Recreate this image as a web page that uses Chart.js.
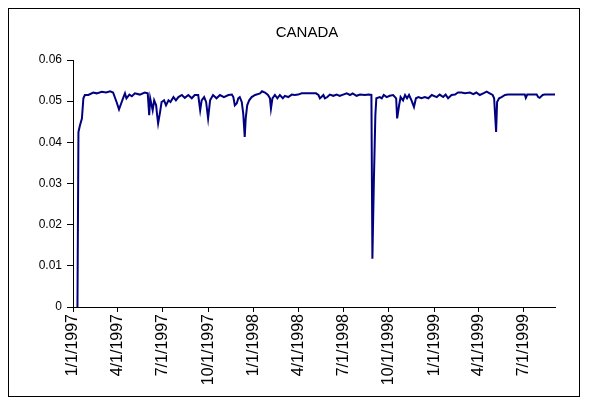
<!DOCTYPE html>
<html>
<head>
<meta charset="utf-8">
<script src="https://cdn.jsdelivr.net/npm/chart.js@4/dist/chart.umd.min.js"></script>
<style>
  html, body { margin: 0; padding: 0; background: #ffffff; }
  #wrap { width: 589px; height: 405px; }
</style>
</head>
<body>
<div id="wrap"><canvas id="c" width="589" height="405"></canvas></div>
<script>
const chartTitle = 'CANADA';

const dates = [
  '1997-01-10','1997-01-12','1997-01-15','1997-01-19','1997-01-22','1997-01-25','1997-02-01','1997-02-11','1997-02-18','1997-02-28',
  '1997-03-09','1997-03-17','1997-03-23','1997-03-30','1997-04-04','1997-04-07','1997-04-13','1997-04-16','1997-04-19','1997-04-25',
  '1997-04-30','1997-05-06','1997-05-16','1997-05-26','1997-06-01','1997-06-04','1997-06-06','1997-06-11','1997-06-14','1997-06-18',
  '1997-06-20','1997-06-22','1997-06-26','1997-06-29','1997-07-04','1997-07-08','1997-07-13','1997-07-17','1997-07-23','1997-07-28',
  '1997-08-02','1997-08-09','1997-08-15','1997-08-22','1997-08-29','1997-09-04','1997-09-11','1997-09-15','1997-09-18','1997-09-23',
  '1997-09-27','1997-10-01','1997-10-05','1997-10-11','1997-10-18','1997-10-25','1997-11-02','1997-11-11','1997-11-18','1997-11-21',
  '1997-11-24','1997-11-28','1997-12-01','1997-12-04','1997-12-08','1997-12-11','1997-12-14','1997-12-16','1997-12-19','1997-12-23',
  '1997-12-28','1998-01-04','1998-01-14','1998-01-18','1998-01-24','1998-01-30','1998-02-03','1998-02-05','1998-02-08','1998-02-13',
  '1998-02-18','1998-02-23','1998-03-01','1998-03-05','1998-03-12','1998-03-19','1998-03-25','1998-04-01','1998-04-08','1998-05-07',
  '1998-05-12','1998-05-15','1998-05-18','1998-05-22','1998-05-25','1998-05-30','1998-06-04','1998-06-11','1998-06-18','1998-06-24',
  '1998-07-01','1998-07-08','1998-07-15','1998-07-20','1998-07-28','1998-08-04','1998-08-14','1998-08-21','1998-08-27','1998-08-29',
  '1998-09-01','1998-09-04','1998-09-06','1998-09-13','1998-09-17','1998-09-21','1998-09-27','1998-10-03','1998-10-10','1998-10-16',
  '1998-10-18','1998-10-22','1998-10-25','1998-10-30','1998-11-03','1998-11-07','1998-11-11','1998-11-16','1998-11-21','1998-11-25',
  '1998-11-30','1998-12-06','1998-12-13','1998-12-20','1998-12-27','1999-01-06','1999-01-12','1999-01-19','1999-01-24','1999-01-29',
  '1999-02-05','1999-02-12','1999-02-18','1999-02-25','1999-03-04','1999-03-14','1999-03-21','1999-03-27','1999-04-03','1999-04-10',
  '1999-04-17','1999-04-23','1999-04-29','1999-05-02','1999-05-06','1999-05-08','1999-05-12','1999-05-17','1999-05-24','1999-05-30',
  '1999-07-03','1999-07-05','1999-07-08','1999-07-27','1999-07-30','1999-08-02','1999-08-08','1999-08-12','1999-09-02'
];

const canadaValues = [
  0.0000,0.0425,0.0441,0.0458,0.0507,0.0515,0.0515,0.0521,0.0519,0.0523,
  0.0521,0.0524,0.0521,0.0498,0.0480,0.0490,0.0510,0.0519,0.0507,0.0516,
  0.0512,0.0519,0.0516,0.0521,0.0519,0.0466,0.0507,0.0478,0.0502,0.0490,
  0.0466,0.0446,0.0474,0.0498,0.0502,0.0490,0.0502,0.0498,0.0510,0.0502,
  0.0510,0.0515,0.0508,0.0515,0.0507,0.0515,0.0515,0.0478,0.0502,0.0510,
  0.0498,0.0458,0.0502,0.0515,0.0507,0.0515,0.0510,0.0515,0.0516,0.0510,
  0.0490,0.0495,0.0507,0.0510,0.0498,0.0470,0.0413,0.0458,0.0490,0.0502,
  0.0510,0.0515,0.0519,0.0524,0.0521,0.0515,0.0507,0.0482,0.0507,0.0515,
  0.0507,0.0515,0.0507,0.0513,0.0510,0.0516,0.0515,0.0516,0.0519,0.0519,
  0.0515,0.0507,0.0510,0.0515,0.0507,0.0510,0.0516,0.0513,0.0516,0.0513,
  0.0516,0.0519,0.0515,0.0519,0.0513,0.0516,0.0515,0.0516,0.0515,0.0117,
  0.0307,0.0466,0.0507,0.0510,0.0507,0.0515,0.0510,0.0513,0.0515,0.0507,
  0.0458,0.0490,0.0510,0.0502,0.0515,0.0507,0.0515,0.0502,0.0486,0.0507,
  0.0510,0.0507,0.0510,0.0507,0.0515,0.0510,0.0516,0.0510,0.0516,0.0507,
  0.0515,0.0516,0.0521,0.0521,0.0519,0.0521,0.0517,0.0521,0.0515,0.0519,
  0.0523,0.0519,0.0515,0.0507,0.0425,0.0498,0.0507,0.0510,0.0515,0.0516,
  0.0516,0.0508,0.0516,0.0516,0.0510,0.0508,0.0515,0.0516,0.0516
];

const xTickDates = [
  '1997-01-01','1997-04-01','1997-07-01','1997-10-01','1998-01-01','1998-04-01',
  '1998-07-01','1998-10-01','1999-01-01','1999-04-01','1999-07-01'
];

const yTicks = [0, 0.01, 0.02, 0.03, 0.04, 0.05, 0.06];

const DAY = 86400000;
function toDay(s) {
  const [y, m, d] = s.split('-').map(Number);
  return (Date.UTC(y, m - 1, d) - Date.UTC(1997, 0, 1)) / DAY;
}
function dayLabel(v) {
  const dt = new Date(Date.UTC(1997, 0, 1) + Math.round(v) * DAY);
  return (dt.getUTCMonth() + 1) + '/' + dt.getUTCDate() + '/' + dt.getUTCFullYear();
}

const points = dates.map((d, i) => ({ x: toDay(d), y: canadaValues[i] }));
const FONT = "'Liberation Sans', Arial, sans-serif";

const frame = {
  id: 'frame',
  beforeDraw(chart) {
    const ctx = chart.ctx;
    ctx.save();
    ctx.fillStyle = '#ffffff';
    ctx.fillRect(0, 0, chart.width, chart.height);
    ctx.strokeStyle = '#000000';
    ctx.lineWidth = 1;
    ctx.strokeRect(8.5, 8.5, 571, 388);
    ctx.restore();
  }
};

new Chart(document.getElementById('c'), {
  type: 'line',
  data: {
    datasets: [{
      label: chartTitle,
      data: points,
      borderColor: '#000080',
      borderWidth: 2,
      pointRadius: 0,
      tension: 0,
      fill: false
    }]
  },
  options: {
    responsive: false,
    animation: false,
    devicePixelRatio: 1,
    layout: { padding: { left: 30, right: 5, top: 0, bottom: 0 } },
    plugins: {
      legend: { display: false },
      tooltip: { enabled: false },
      title: {
        display: true,
        text: chartTitle,
        color: '#000000',
        font: { family: FONT, size: 15, weight: 'normal' },
        padding: { top: 24, bottom: 18 }
      }
    },
    scales: {
      x: {
        type: 'linear',
        min: 0,
        max: toDay(dates[dates.length - 1]),
        afterBuildTicks(scale) {
          scale.ticks = xTickDates.map(d => ({ value: toDay(d) }));
        },
        afterFit(scale) { scale.height = 98; },
        grid: { drawOnChartArea: false, drawTicks: true, tickLength: 5, color: '#000000' },
        border: { display: true, color: '#000000', width: 1 },
        ticks: {
          autoSkip: false,
          minRotation: 90,
          maxRotation: 90,
          padding: 2,
          color: '#000000',
          font: { family: FONT, size: 16 },
          callback: (v) => dayLabel(v)
        }
      },
      y: {
        type: 'linear',
        min: 0,
        max: 0.06,
        afterBuildTicks(scale) {
          scale.ticks = yTicks.map(v => ({ value: v }));
        },
        afterFit(scale) { scale.width = 43; },
        grid: { drawOnChartArea: false, drawTicks: true, tickLength: 6, color: '#000000' },
        border: { display: true, color: '#000000', width: 1 },
        ticks: {
          padding: 5,
          color: '#000000',
          font: { family: FONT, size: 12 },
          callback: (v) => (v === 0 ? '0' : v.toFixed(2))
        }
      },
      yRight: {
        type: 'linear',
        position: 'right',
        display: true,
        afterFit(scale) { scale.width = 29; },
        grid: { display: false },
        border: { display: false },
        ticks: { display: false }
      }
    }
  },
  plugins: [frame]
});
</script>
</body>
</html>
